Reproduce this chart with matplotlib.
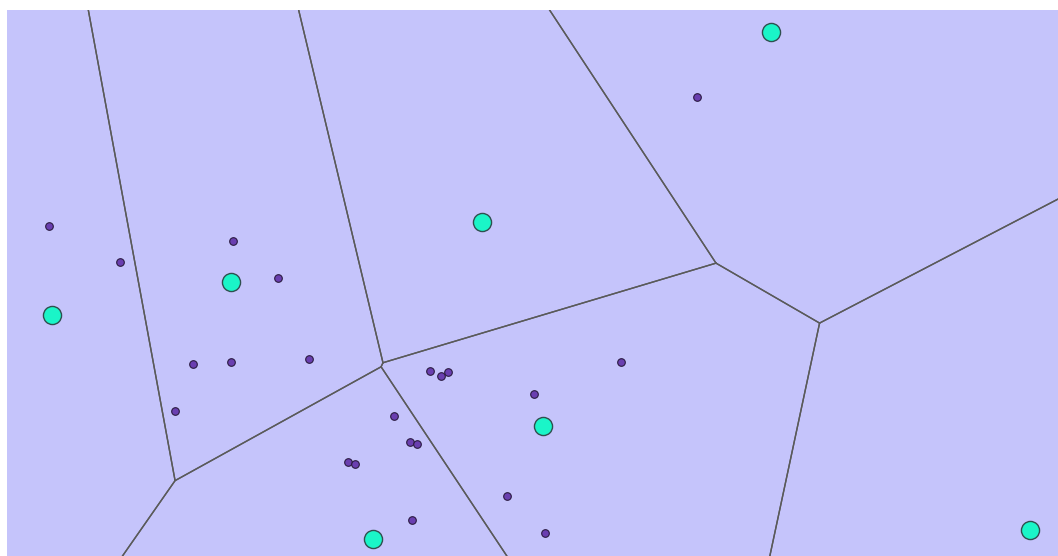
import numpy as np
import matplotlib
matplotlib.use("Agg")
import matplotlib.pyplot as plt

# Voronoi sites (large cyan markers)
site_x = [4.5, 22.4, 47.5, 76.4, 53.6, 36.6, 102.3]
site_y = [24.1, 27.4, 33.4, 52.4, 13.0, 1.7, 2.6]

# sample points (small purple markers)
pt_x = [4.2, 11.3, 22.6, 27.1, 18.6, 22.4, 30.2, 16.8, 42.3, 43.4, 44.1,
        38.7, 40.3, 41.0, 34.1, 34.8, 40.5, 50.0, 53.8, 52.7, 61.4, 69.0]
pt_y = [33.0, 29.4, 31.5, 27.8, 19.2, 19.4, 19.7, 14.5, 18.5, 18.0, 18.4,
        14.0, 11.4, 11.2, 9.4, 9.2, 3.6, 6.0, 2.3, 16.2, 19.4, 45.9]

xlim = (0, 105.1)
ylim = (0, 54.6)


def clip(poly, a, b, c):
    """Keep the part of poly where a*x + b*y <= c."""
    out = []
    n = len(poly)
    for i in range(n):
        p, q = poly[i], poly[(i + 1) % n]
        fp = a * p[0] + b * p[1] - c
        fq = a * q[0] + b * q[1] - c
        if fp <= 0:
            out.append(p)
        if fp * fq < 0:
            t = fp / (fp - fq)
            out.append((p[0] + t * (q[0] - p[0]), p[1] + t * (q[1] - p[1])))
    return out


def voronoi_cells(xs, ys, pad=200):
    box = [(xlim[0] - pad, ylim[0] - pad), (xlim[1] + pad, ylim[0] - pad),
           (xlim[1] + pad, ylim[1] + pad), (xlim[0] - pad, ylim[1] + pad)]
    cells = []
    for i in range(len(xs)):
        poly = list(box)
        for j in range(len(xs)):
            if i == j:
                continue
            a = xs[j] - xs[i]
            b = ys[j] - ys[i]
            c = (xs[j] ** 2 + ys[j] ** 2 - xs[i] ** 2 - ys[i] ** 2) / 2
            poly = clip(poly, a, b, c)
        cells.append(poly)
    return cells


fig = plt.figure(figsize=(10.58, 5.56), dpi=100)
ax = fig.add_axes([7 / 1058, 0, 1051 / 1058, 546 / 556])
ax.set_facecolor("#c5c4fb")

for cell in voronoi_cells(site_x, site_y):
    cx = [p[0] for p in cell] + [cell[0][0]]
    cy = [p[1] for p in cell] + [cell[0][1]]
    ax.plot(cx, cy, color="#5a5a5a", lw=1.0, zorder=1)

ax.scatter(pt_x, pt_y, s=30, color="#6a3fb0", edgecolor="#2a1a40",
           linewidth=0.8, zorder=2)
ax.scatter(site_x, site_y, s=170, color="#1af5c8", edgecolor="#2f4f4f",
           linewidth=1.0, zorder=3)

ax.set_xlim(*xlim)
ax.set_ylim(*ylim)
ax.set_aspect("auto")
ax.set_xticks([])
ax.set_yticks([])
for s in ax.spines.values():
    s.set_visible(False)

fig.savefig("out.png", dpi=100)
